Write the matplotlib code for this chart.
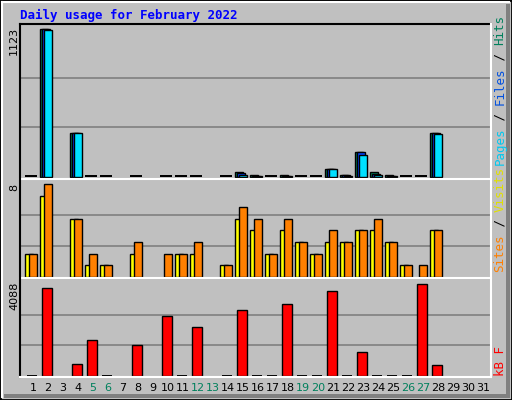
import matplotlib
matplotlib.use("Agg")
import matplotlib.pyplot as plt
from matplotlib.patches import Rectangle

days = list(range(1, 32))
weekend_days = [5, 6, 12, 13, 19, 20, 26, 27]

# None = no data for that day
hits = [0, 1123, None, 336, 0, 0, None, 0, None, 0, 0, 0, None, 0, 35, 15, 0, 15, 0, 0,
        58, 15, 188, 34, 15, 0, 0, 333, None, None, None]
files = [0, 1120, None, 336, 0, 0, None, 0, None, 0, 0, 0, None, 0, 25, 8, 0, 8, 0, 0,
         58, 12, 186, 20, 8, 0, 0, 330, None, None, None]
pages = [0, 1115, None, 336, 0, 0, None, 0, None, 0, 0, 0, None, 0, 15, 5, 0, 5, 0, 0,
         58, 8, 165, 15, 5, 0, 0, 322, None, None, None]
sites = [2, 7, None, 5, 1, 1, None, 2, None, None, 2, 2, None, 1, 5, 4, 2, 4, 3, 2,
         3, 3, 4, 4, 3, 1, None, 4, None, None, None]
visits = [2, 8, None, 5, 2, 1, None, 3, None, 2, 2, 3, None, 1, 6, 5, 2, 5, 3, 2,
          4, 3, 4, 5, 3, 1, 1, 4, None, None, None]
kbytes = [0, 3910, None, 520, 1590, 0, None, 1370, None, 2660, 0, 2170, None, 0, 2930, 0,
          0, 3200, 0, 0, 3780, 0, 1060, 0, 0, 0, 4088, 480, None, None, None]

BG = "#C0C0C0"
W, H = 512, 400
fig = plt.figure(figsize=(W / 100, H / 100), dpi=100, facecolor=BG)


def px_axes(x0, y0, x1, y1):
    return fig.add_axes([x0 / W, 1 - y1 / H, (x1 - x0) / W, (y1 - y0) / H])


def add_bars(ax, values, offset, width, color, min_h):
    for d, v in zip(days, values):
        if v is None:
            continue
        if v == 0:
            ax.bar(d + offset, min_h, width, align="edge", color="black", linewidth=0)
        else:
            ax.bar(d + offset, v, width, align="edge", color=color,
                   edgecolor="black", linewidth=1)


def style(ax, ymax, top_px, bottom_px, panel_px):
    per_px = ymax / panel_px
    ax.set_xlim(0.13, 31.53)
    ax.set_ylim(-bottom_px * per_px, ymax + top_px * per_px)
    ax.set_facecolor(BG)
    for y in (ymax / 3, 2 * ymax / 3):
        ax.axhline(y, color="#808080", linewidth=1.2, zorder=0)
    ax.set_xticks([])
    ax.set_yticks([])
    for s in ax.spines.values():
        s.set_visible(False)
    return per_px


ax1 = px_axes(20, 24, 491, 178)
per = style(ax1, 1123, 5, 1.3, 147.4)
add_bars(ax1, hits, -0.53, 0.55, "#00805C", 1.5 * per)
add_bars(ax1, files, -0.40, 0.53, "#0040FF", 1.5 * per)
add_bars(ax1, pages, -0.27, 0.52, "#00E0FF", 1.5 * per)

ax2 = px_axes(20, 180, 491, 277)
per = style(ax2, 8, 4.3, 0.3, 92.4)
add_bars(ax2, sites, -0.53, 0.55, "#FFFF00", 1.5 * per)
add_bars(ax2, visits, -0.27, 0.52, "#FF8000", 1.5 * per)

ax3 = px_axes(20, 279, 491, 377)
per = style(ax3, 4088, 5.3, 1.0, 91.7)
add_bars(ax3, kbytes, -0.42, 0.67, "#FF0000", 1.5 * per)

for y in (24, 179, 278):
    fig.add_artist(plt.Line2D([20 / W, 491 / W], [1 - y / H] * 2,
                              color="black" if y == 24 else "white", lw=1.5))
fig.add_artist(plt.Line2D([20 / W, 20 / W], [1 - 24 / H, 1 - 377 / H], color="black", lw=1.5))
fig.add_artist(plt.Line2D([491 / W, 491 / W], [1 - 24 / H, 1 - 377 / H], color="white", lw=1.5))
fig.add_artist(plt.Line2D([20 / W, 491 / W], [1 - 377 / H] * 2, color="white", lw=1.5))

fig.add_artist(Rectangle((0, 0), 1, 1, transform=fig.transFigure, fill=False, edgecolor="black", lw=2))
fig.add_artist(plt.Line2D([2 / W, 2 / W], [3 / H, 1 - 2 / H], color="white", lw=1.5))
fig.add_artist(plt.Line2D([2 / W, 1 - 3 / W], [1 - 2 / H] * 2, color="white", lw=1.5))
fig.add_artist(Rectangle((4 / W, 2 / H), 1 - 6 / W, 4 / H, transform=fig.transFigure, color="#808080", lw=0))
fig.add_artist(Rectangle((1 - 6 / W, 2 / H), 4 / W, 1 - 6 / H, transform=fig.transFigure, color="#808080", lw=0))

fig.text(20 / W, 1 - 15 / H, "Daily usage for February 2022", color="#0000FF",
         fontsize=9, fontweight="bold", family="DejaVu Sans Mono", va="center")

for y_px, txt in ((27, "1123"), (184, "8"), (282, "4088")):
    fig.text(14 / W, 1 - y_px / H, txt, rotation=90, fontsize=8, ha="center", va="top")

renderer = fig.canvas.get_renderer()


def right_label(parts, y_bottom):
    y = 1 - y_bottom / H
    for txt, color in parts:
        t = fig.text(500 / W, y, txt, rotation=90, fontsize=9, color=color,
                     family="DejaVu Sans Mono", ha="center", va="bottom")
        bb = t.get_window_extent(renderer)
        y += bb.height / H


right_label([("Pages", "#00C8F0"), (" / ", "black"), ("Files", "#0050E0"),
             (" / ", "black"), ("Hits", "#00805C")], 165)
right_label([("Sites", "#FF8000"), (" / ", "black"), ("Visits", "#E0E000")], 272)
right_label([("kB F", "#FF0000")], 376)

for d in days:
    fig.text((33 + 15 * (d - 1)) / W, 1 - 388 / H, str(d), fontsize=8, ha="center", va="center",
             color="#00805C" if d in weekend_days else "black")

fig.savefig("out.png", dpi=100, facecolor=BG)
